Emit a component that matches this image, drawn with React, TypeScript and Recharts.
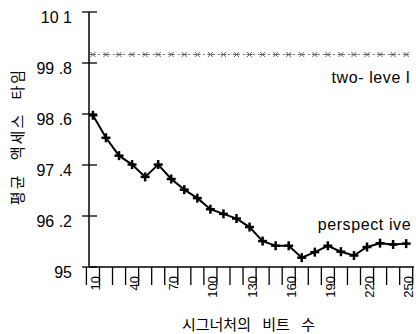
import { LineChart, Line, XAxis, YAxis } from 'recharts';

// signature bits (x categories)
const bits = [10, 20, 30, 40, 50, 60, 70, 80, 90, 100, 110, 120, 130, 140, 150, 160, 170, 180, 190, 200, 210, 220, 230, 240, 250];
const perspective = [98.57, 98.04, 97.62, 97.41, 97.12, 97.41, 97.07, 96.82, 96.62, 96.36, 96.25, 96.14, 95.94, 95.61, 95.5, 95.5, 95.22, 95.35, 95.5, 95.36, 95.27, 95.47, 95.56, 95.53, 95.55];
const twoLevel = [100.0, 100.0, 100.0, 100.0, 100.0, 100.0, 100.0, 100.0, 100.0, 100.0, 100.0, 100.0, 100.0, 100.0, 100.0, 100.0, 100.0, 100.0, 100.0, 100.0, 100.0, 100.0, 100.0, 100.0, 100.0];
const labeledBits = [10, 40, 70, 100, 130, 160, 190, 220, 250];
const yTicks = [95, 96.2, 97.4, 98.6, 99.8, 101];
const yTickLabels = ['95', '96 .2', '97 .4', '98 .6', '99 .8', '10 1'];

const data = bits.map((b, i) => ({ bits: b, perspective: perspective[i], twoLevel: twoLevel[i] }));

const FONT = '"Liberation Sans", Arial, sans-serif';
const KFONT = '"Noto Sans CJK KR", sans-serif';
const HALF = 6.5;

const XTick = (props: any) => {
    const { x, y, payload, index } = props;
    const last = index === bits.length - 1;
    const show = labeledBits.includes(payload.value);
    return (
        <g>
            <line x1={x - HALF} x2={x - HALF} y1={y} y2={y + 18} stroke="#000" strokeWidth={1.3} />
            {last && <line x1={x + HALF} x2={x + HALF} y1={y} y2={y + 18} stroke="#000" strokeWidth={1.3} />}
            {show && (
                <text
                    x={x + 7}
                    y={y + 9}
                    textAnchor="end"
                    transform={`rotate(-90, ${x + 7}, ${y + 9})`}
                    fontSize={13}
                    fontFamily={FONT}
                    fill="#000"
                >
                    {payload.value}
                </text>
            )}
        </g>
    );
};

const YTick = (props: any) => {
    const { x, y, payload } = props;
    const i = yTicks.indexOf(payload.value);
    return (
        <g>
            <line x1={x - 7} x2={x + 8} y1={y} y2={y} stroke="#000" strokeWidth={1.3} />
            <text x={x - 17} y={y + 5} textAnchor="end" dominantBaseline="central" fontSize={16} fontFamily={FONT} fill="#000">
                {yTickLabels[i]}
            </text>
        </g>
    );
};

const plusDot = (props: any) => {
    const { cx, cy, index } = props;
    return (
        <g key={`p-${index}`}>
            <line x1={cx - 4.5} x2={cx + 4.5} y1={cy} y2={cy} stroke="#000" strokeWidth={2.5} />
            <line x1={cx} x2={cx} y1={cy - 4.5} y2={cy + 4.5} stroke="#000" strokeWidth={2.5} />
        </g>
    );
};

const starDot = (props: any) => {
    const { cx, cy, index } = props;
    return (
        <g key={`s-${index}`} stroke="#666" strokeWidth={1}>
            <line x1={cx - 3} x2={cx + 3} y1={cy} y2={cy} />
            <line x1={cx - 2.5} x2={cx + 2.5} y1={cy - 2.5} y2={cy + 2.5} />
            <line x1={cx - 2.5} x2={cx + 2.5} y1={cy + 2.5} y2={cy - 2.5} />
        </g>
    );
};

const seriesLabel = (text: string, dx: number, dy: number) => (props: any) => {
    const { x, y, index } = props;
    if (index !== bits.length - 1) return <g key={`l-${index}`} />;
    return (
        <text key={`l-${index}`} x={x + dx} y={y + dy} textAnchor="end" fontSize={16} letterSpacing={0.6} fontFamily={FONT} fill="#000">
            {text}
        </text>
    );
};

export default function App() {
    return (
        <div style={{ position: 'absolute', left: 0, top: 0, width: 416, height: 334, background: '#fff' }}>
            <LineChart width={416} height={334} data={data} margin={{ top: 12, right: 2, bottom: 0, left: 0 }}>
                <XAxis
                    dataKey="bits"
                    type="number"
                    domain={[7, 256]}
                    allowDataOverflow
                    ticks={bits}
                    interval={0}
                    height={67}
                    tickSize={0}
                    tickMargin={0}
                    tickLine={false}
                    axisLine={{ stroke: '#000', strokeWidth: 1.5 }}
                    tick={<XTick />}
                    label={{
                        content: ({ viewBox }: any) => (
                            <text
                                x={viewBox.x + viewBox.width / 2 - 3}
                                y={323}
                                textAnchor="middle"
                                dominantBaseline="central"
                                fontSize={15}
                                wordSpacing={8}
                                fontFamily={KFONT}
                                fill="#000"
                            >
                                시그너처의 비트 수
                            </text>
                        ),
                    }}
                />
                <YAxis
                    type="number"
                    domain={[95, 101]}
                    ticks={yTicks}
                    interval={0}
                    width={89}
                    tickSize={0}
                    tickMargin={0}
                    tickLine={false}
                    axisLine={{ stroke: '#000', strokeWidth: 1.5 }}
                    tick={<YTick />}
                    label={{
                        content: ({ viewBox }: any) => {
                            const cx = viewBox.x + 16;
                            const cy = viewBox.y + viewBox.height / 2 - 3;
                            return (
                                <text
                                    x={cx}
                                    y={cy}
                                    textAnchor="middle"
                                    dominantBaseline="central"
                                    transform={`rotate(-90, ${cx}, ${cy})`}
                                    fontSize={15}
                                    letterSpacing={2}
                                    wordSpacing={8}
                                    fontFamily={KFONT}
                                    fill="#000"
                                >
                                    평균 액세스 타임
                                </text>
                            );
                        },
                    }}
                />
                <Line
                    dataKey="twoLevel"
                    stroke="#777"
                    strokeWidth={1}
                    strokeDasharray="2 3"
                    dot={starDot}
                    activeDot={false}
                    isAnimationActive={false}
                    label={seriesLabel('two- leve l', 4, 28)}
                />
                <Line
                    dataKey="perspective"
                    stroke="#000"
                    strokeWidth={2}
                    dot={plusDot}
                    activeDot={false}
                    isAnimationActive={false}
                    label={seriesLabel('perspect ive', 5, -14)}
                />
            </LineChart>
        </div>
    );
}
